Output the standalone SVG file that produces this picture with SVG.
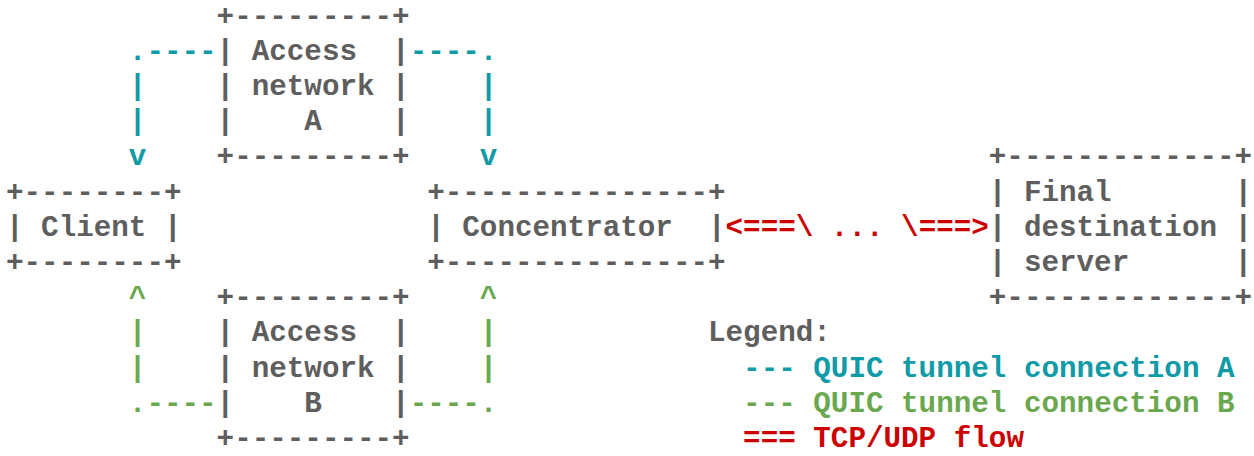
<svg xmlns="http://www.w3.org/2000/svg" width="1254" height="456" viewBox="0 0 1254 456" xml:space="preserve">
<style>
text{font-family:"Liberation Mono","DejaVu Sans Mono",monospace;font-size:29.25px;font-weight:bold;white-space:pre}
.g{fill:#5e5e5e}
.a{fill:#0f9aa8}
.b{fill:#6aa84f}
.r{fill:#cc0000}
</style>
<rect width="1254" height="456" fill="#ffffff"/>
<g id="access-a">
<text class="g" x="216.6" y="24.6">+---------+</text>
<text class="g" x="216.6" y="59.8">| Access  |</text>
<text class="g" x="216.6" y="95">| network |</text>
<text class="g" x="216.6" y="130.2">|    A    |</text>
<text class="g" x="216.6" y="165.4">+---------+</text>
</g>
<g id="access-b">
<text class="g" x="216.6" y="306.2">+---------+</text>
<text class="g" x="216.6" y="341.4">| Access  |</text>
<text class="g" x="216.6" y="376.6">| network |</text>
<text class="g" x="216.6" y="411.8">|    B    |</text>
<text class="g" x="216.6" y="447">+---------+</text>
</g>
<g id="client">
<text class="g" x="6" y="200.6">+--------+</text>
<text class="g" x="6" y="235.8">| Client |</text>
<text class="g" x="6" y="271">+--------+</text>
</g>
<g id="concentrator">
<text class="g" x="427.2" y="200.6">+---------------+</text>
<text class="g" x="427.2" y="235.8">| Concentrator  |</text>
<text class="g" x="427.2" y="271">+---------------+</text>
</g>
<g id="final-server">
<text class="g" x="988.8" y="165.4">+-------------+</text>
<text class="g" x="988.8" y="200.6">| Final       |</text>
<text class="g" x="988.8" y="235.8">| destination |</text>
<text class="g" x="988.8" y="271">| server      |</text>
<text class="g" x="988.8" y="306.2">+-------------+</text>
</g>
<g id="connectors">
<g id="tunnel-a">
<text class="a" x="128.85" y="59.8">.----</text>
<text class="a" x="409.65" y="59.8">----.</text>
<text class="a" x="128.85" y="95">|</text>
<text class="a" x="479.85" y="95">|</text>
<text class="a" x="128.85" y="130.2">|</text>
<text class="a" x="479.85" y="130.2">|</text>
<text class="a" x="128.85" y="165.4">v</text>
<text class="a" x="479.85" y="165.4">v</text>
</g>
<g id="tunnel-b">
<text class="b" x="128.85" y="306.2">^</text>
<text class="b" x="479.85" y="306.2">^</text>
<text class="b" x="128.85" y="341.4">|</text>
<text class="b" x="479.85" y="341.4">|</text>
<text class="b" x="128.85" y="376.6">|</text>
<text class="b" x="479.85" y="376.6">|</text>
<text class="b" x="128.85" y="411.8">.----</text>
<text class="b" x="409.65" y="411.8">----.</text>
</g>
<g id="flow">
<text class="r" x="725.55" y="235.8">&lt;===\ ... \===&gt;</text>
</g>
</g>
<g id="legend">
<text class="g" x="708" y="341.4">Legend:</text>
<text class="a" x="743.1" y="376.6">--- QUIC tunnel connection A</text>
<text class="b" x="743.1" y="411.8">--- QUIC tunnel connection B</text>
<text class="r" x="743.1" y="447">=== TCP/UDP flow</text>
</g>
</svg>
